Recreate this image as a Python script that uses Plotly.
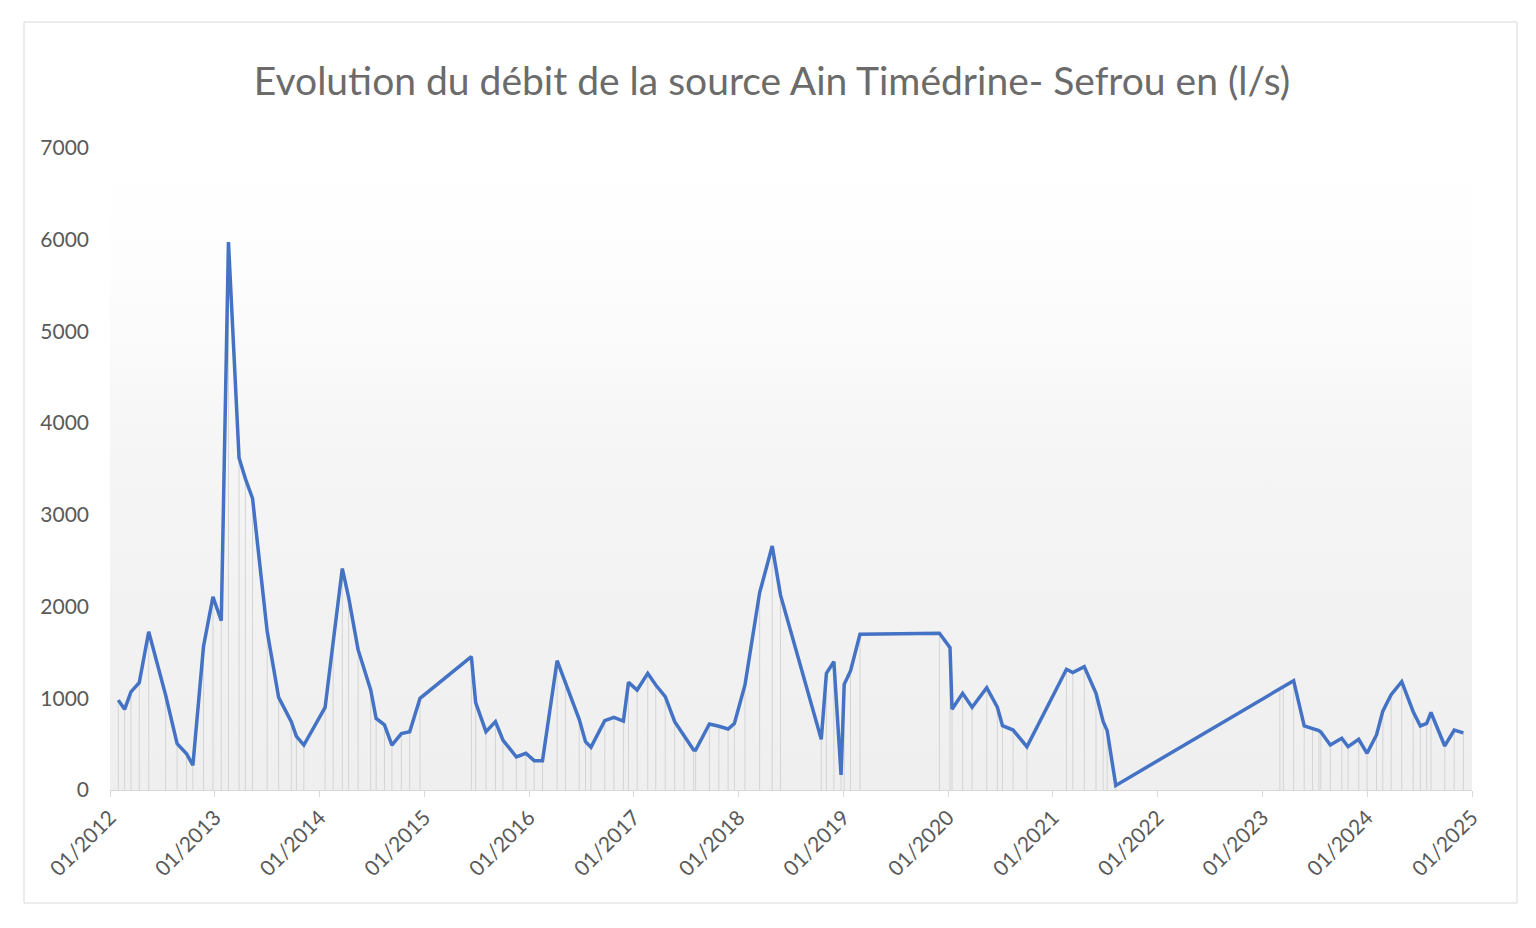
import plotly.graph_objects as go

# ---- data ----
dates = [
    "2012-01-30", "2012-02-21", "2012-03-14", "2012-04-12", "2012-05-15", "2012-07-13",
    "2012-08-22", "2012-09-24", "2012-10-16", "2012-11-22", "2012-12-25",
    "2013-01-23", "2013-02-17", "2013-03-26", "2013-04-17", "2013-05-12", "2013-07-02",
    "2013-08-11", "2013-09-24", "2013-10-12", "2013-11-07",
    "2014-01-20", "2014-02-17", "2014-03-21", "2014-04-12", "2014-05-15", "2014-06-28",
    "2014-07-17", "2014-08-15", "2014-09-10", "2014-10-13", "2014-11-11", "2014-12-17",
    "2015-06-14", "2015-06-29", "2015-08-04", "2015-09-06", "2015-10-02", "2015-11-18",
    "2015-12-21",
    "2016-01-19", "2016-02-17", "2016-04-08", "2016-05-07", "2016-06-24", "2016-07-16",
    "2016-08-04", "2016-09-21", "2016-10-23", "2016-11-25", "2016-12-13",
    "2017-01-12", "2017-02-18", "2017-03-18", "2017-04-20", "2017-05-23", "2017-06-25",
    "2017-07-28", "2017-08-04", "2017-09-21", "2017-10-24", "2017-11-25", "2017-12-17",
    "2018-01-23", "2018-03-15", "2018-04-28", "2018-05-27", "2018-10-16", "2018-11-03",
    "2018-11-29", "2018-12-24",
    "2019-01-04", "2019-01-26", "2019-02-28", "2019-12-02",
    "2020-01-08", "2020-01-15", "2020-02-21", "2020-03-25", "2020-05-15", "2020-06-21",
    "2020-07-09", "2020-08-15", "2020-10-02",
    "2021-02-17", "2021-03-11", "2021-04-20", "2021-05-31", "2021-06-25", "2021-07-09",
    "2021-08-08",
    "2023-03-03", "2023-03-15", "2023-04-20", "2023-05-27", "2023-06-25", "2023-07-17",
    "2023-07-24", "2023-08-26", "2023-10-05", "2023-10-27", "2023-12-03",
    "2024-01-01", "2024-02-03", "2024-02-25", "2024-03-25", "2024-05-01", "2024-06-10",
    "2024-07-05", "2024-07-27", "2024-08-11", "2024-09-28", "2024-10-31", "2024-12-02",
]
debit = [
    980, 880, 1070, 1170, 1725, 1035,
    505, 395, 270, 1565, 2105,
    1845, 5975, 3620, 3395, 3180, 1730,
    1010, 745, 585, 490,
    900, 1610, 2415, 2100, 1530, 1090,
    780, 710, 490, 615, 635, 1000,
    1455, 952, 636, 745, 545, 360,
    400,
    320, 320, 1410, 1160, 770, 527,
    466, 756, 793, 752, 1174,
    1090, 1272, 1145, 1018, 745, 589,
    436, 436, 720, 695, 665, 725,
    1145, 2150, 2660, 2125, 553, 1272,
    1400, 164,
    1152, 1298, 1698, 1709,
    1552, 880, 1054, 902, 1116, 902,
    701, 654, 472,
    1316, 1280, 1345, 1054, 745, 647,
    50,
    1110, 1135, 1192, 698, 672, 647,
    632, 491, 564, 472, 553,
    400, 600, 860, 1040, 1181, 854,
    698, 727, 845, 480, 654, 622,
]
x_ticks = ["2012-01-01", "2013-01-01", "2014-01-01", "2015-01-01", "2016-01-01",
           "2017-01-01", "2018-01-01", "2019-01-01", "2020-01-01", "2021-01-01",
           "2022-01-01", "2023-01-01", "2024-01-01", "2025-01-01"]
x_tick_labels = ["01/2012", "01/2013", "01/2014", "01/2015", "01/2016", "01/2017",
                 "01/2018", "01/2019", "01/2020", "01/2021", "01/2022", "01/2023",
                 "01/2024", "01/2025"]
y_ticks = [0, 1000, 2000, 3000, 4000, 5000, 6000, 7000]

title_text = "Evolution du débit de la source Ain Timédrine- Sefrou en (l/s)"

x_min, x_max = x_ticks[0], x_ticks[-1]
y_min, y_max = y_ticks[0], y_ticks[-1]

FONT = "Lato, 'Open Sans', 'DejaVu Sans', sans-serif"
TEXT_GREY = "#595959"

# page offset compensation (body margin)
OFF = 8
L, R_EDGE, TOP, ZERO = 110 - OFF, 1472 - OFF, 148 - OFF, 790 - OFF
PW, PH = R_EDGE - L, ZERO - TOP

fig = go.Figure()

# plot-area background gradient (light grey at bottom -> white at top)
fig.add_trace(go.Scatter(
    x=[x_min, x_max, x_max, x_min, x_min],
    y=[y_min, y_min, y_max, y_max, y_min],
    mode="none", fill="toself",
    fillgradient=dict(type="vertical",
                      colorscale=[[0, "#efefef"], [0.3, "#f2f2f2"], [0.55, "#f6f6f6"],
                                  [0.8, "#fdfdfd"], [1, "#ffffff"]]),
    hoverinfo="skip", showlegend=False,
))

# drop lines from each point down to the axis
drop_x, drop_y = [], []
for d, v in zip(dates, debit):
    drop_x += [d, d, None]
    drop_y += [0, v, None]
fig.add_trace(go.Scatter(
    x=drop_x, y=drop_y, mode="lines",
    line=dict(color="#d4d4d4", width=1),
    hoverinfo="skip", showlegend=False,
))

# main series
fig.add_trace(go.Scatter(
    x=dates, y=debit, mode="lines",
    line=dict(color="#4472C4", width=3.5),
    name="Débit (l/s)", showlegend=False,
))

fig.update_layout(
    width=1536, height=928,
    margin=dict(l=L, r=1536 - R_EDGE, t=TOP, b=928 - ZERO),
    paper_bgcolor="white",
    plot_bgcolor="rgba(0,0,0,0)",
    title=dict(text=title_text, x=(772 - OFF) / 1536, xanchor="center", xref="container",
               y=1 - (81 - OFF) / 928, yanchor="middle", yref="container",
               font=dict(family=FONT, size=39, color="#6b6b6b")),
    font=dict(family=FONT, color=TEXT_GREY),
    xaxis=dict(
        type="date", range=[x_min, x_max],
        tickmode="array", tickvals=x_ticks, ticktext=x_tick_labels,
        tickangle=-45, tickfont=dict(size=21, color=TEXT_GREY),
        showgrid=False, zeroline=False,
        showline=True, linecolor="#d9d9d9", linewidth=1,
        ticks="outside", ticklen=6, tickcolor="#d9d9d9", tickwidth=1,
    ),
    yaxis=dict(
        range=[y_min, y_max],
        tickmode="array", tickvals=y_ticks,
        tickfont=dict(size=21, color=TEXT_GREY),
        showgrid=False, zeroline=False, showline=False,
        ticks="", ticklabelstandoff=20,
    ),
    shapes=[dict(type="rect", xref="paper", yref="paper",
                 x0=(24 - OFF - L) / PW, x1=(1517 - OFF - L) / PW,
                 y0=(ZERO - (903 - OFF)) / PH, y1=(ZERO - (22 - OFF)) / PH,
                 line=dict(color="#d9d9d9", width=1), fillcolor="rgba(0,0,0,0)",
                 layer="below")],
)

fig.write_html("out.html")
